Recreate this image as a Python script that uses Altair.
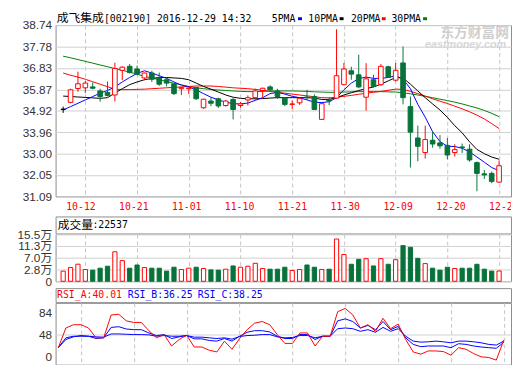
import altair as alt
import pandas as pd

# ---------------- text ----------------
TITLE_NAME = "成飞集成"
TITLE_INFO = "[002190] 2016-12-29 14:32"
MA_NAMES = ["5PMA", "10PMA", "20PMA", "30PMA"]
VOL_NAME = "成交量"
VOL_INFO = ":22537"
RSI_NAMES = ["RSI_A:40.01", "RSI_B:36.25", "RSI_C:38.25"]
WATERMARK = "东方财富网"
WATERMARK_SUB = "eastmoney.com"

# ---------------- axes ----------------
DATE_TICKS = [3, 10, 17, 24, 31, 38, 45, 52, 59]
DATE_LABELS = ["10-12", "10-21", "11-01", "11-10", "11-21", "11-30", "12-09", "12-20", "12-29"]
PRICE_TICKS = [31.09, 32.05, 33.00, 33.96, 34.92, 35.87, 36.83, 37.78, 38.74]
VOL_TICKS = [-14300, 28000, 70300, 112700, 155000]
VOL_TICK_LABELS = ["0", "2.8万", "7.0万", "11.3万", "15.5万"]
RSI_TICKS = [0, 48, 84]
RSI_GRID = [48]

# ---------------- data ----------------
OPEN = [34.98, 35.29, 35.91, 35.94, 35.98, 35.80, 35.73, 35.62, 36.72, 36.90,
        36.78, 36.38, 36.60, 36.38, 36.30, 36.12, 35.90, 35.90, 35.95, 35.05,
        35.35, 35.45, 35.15, 35.42, 35.15, 35.40, 35.50, 35.82, 35.98, 35.80,
        35.48, 35.20, 35.27, 35.53, 35.55, 34.53, 35.40, 35.48, 36.08, 36.70,
        36.52, 35.52, 36.30, 36.08, 36.88, 36.28, 37.05, 35.10, 33.70, 33.05,
        33.60, 33.48, 33.37, 33.05, 33.30, 33.20, 32.60, 32.10, 32.12, 31.73]
HIGH = [35.10, 35.90, 36.66, 36.25, 36.18, 35.90, 36.22, 37.06, 36.90, 37.00,
        36.93, 36.62, 36.70, 36.62, 36.40, 36.15, 35.96, 35.95, 35.98, 35.45,
        35.50, 35.50, 35.40, 35.48, 35.30, 35.60, 35.90, 35.95, 36.05, 35.90,
        35.50, 35.38, 35.50, 35.85, 35.65, 35.25, 35.52, 38.55, 37.05, 36.88,
        37.42, 37.04, 36.52, 37.00, 36.92, 37.05, 37.78, 35.55, 34.25, 34.25,
        34.00, 33.83, 33.70, 33.42, 33.45, 33.42, 32.65, 32.27, 32.20, 32.70]
LOW = [34.82, 35.25, 35.76, 35.71, 35.88, 35.32, 35.56, 35.33, 36.28, 36.58,
       36.50, 36.28, 36.20, 36.03, 36.00, 35.62, 35.62, 35.66, 35.40, 35.00,
       35.12, 35.04, 35.10, 34.53, 35.05, 35.15, 35.40, 35.47, 35.83, 35.45,
       35.12, 35.00, 35.18, 35.40, 34.95, 34.50, 35.17, 35.45, 36.05, 36.30,
       35.92, 34.92, 35.95, 36.03, 36.38, 36.22, 35.20, 32.38, 32.66, 32.78,
       33.27, 33.22, 32.75, 32.87, 33.03, 32.64, 31.32, 31.87, 31.68, 31.70]
CLOSE = [34.98, 35.85, 36.12, 36.15, 35.92, 35.55, 35.60, 36.80, 36.86, 36.62,
         36.55, 36.60, 36.32, 36.10, 36.15, 35.68, 35.95, 35.93, 35.45, 35.43,
         35.25, 35.13, 35.35, 34.97, 35.22, 35.50, 35.80, 35.92, 35.85, 35.55,
         35.20, 35.22, 35.47, 35.50, 34.97, 35.23, 35.35, 36.48, 36.78, 36.55,
         35.98, 36.34, 36.00, 36.90, 36.40, 36.72, 35.50, 33.96, 33.33, 33.63,
         33.43, 33.35, 32.94, 33.18, 33.27, 32.72, 32.12, 32.05, 31.76, 32.46]
VOLUME = [22000, 35000, 47000, 28000, 25600, 32600, 39700, 91500, 59800, 32600,
          44200, 35000, 32600, 32600, 22000, 36100, 28000, 32600, 36100, 31600,
          26600, 25600, 29100, 40700, 36100, 39700, 50200, 31600, 29100, 29100,
          36100, 24500, 28000, 44200, 36100, 28000, 29100, 137400, 82000, 46700,
          64400, 66800, 40700, 66800, 46700, 63300, 113700, 107700, 67900, 49200,
          32600, 25600, 36100, 31600, 32600, 32600, 46700, 29100, 22000, 22537]
MA5 = [34.95, 35.10, 35.25, 35.40, 35.55, 35.70, 35.82, 35.98, 36.20, 36.40,
       36.58, 36.70, 36.60, 36.48, 36.36, 36.20, 36.06, 35.98, 35.85, 35.68,
       35.52, 35.40, 35.30, 35.23, 35.22, 35.26, 35.38, 35.50, 35.68, 35.74,
       35.66, 35.56, 35.50, 35.40, 35.30, 35.28, 35.32, 35.50, 35.85, 36.15,
       36.35, 36.42, 36.36, 36.36, 36.40, 36.48, 36.32, 35.90, 35.20, 34.63,
       33.98, 33.54, 33.33, 33.32, 33.24, 33.08, 32.85, 32.62, 32.38, 32.24]
MA10 = [35.57, 35.55, 35.53, 35.51, 35.49, 35.47, 35.50, 35.70, 35.90, 36.08,
        36.20, 36.30, 36.36, 36.40, 36.40, 36.38, 36.36, 36.30, 36.15, 36.00,
        35.88, 35.75, 35.62, 35.52, 35.47, 35.45, 35.45, 35.46, 35.48, 35.50,
        35.50, 35.50, 35.50, 35.50, 35.48, 35.42, 35.42, 35.50, 35.62, 35.72,
        35.82, 35.90, 35.98, 36.10, 36.25, 36.40, 36.38, 36.10, 35.80, 35.50,
        35.22, 34.95, 34.62, 34.25, 33.93, 33.53, 33.19, 33.00, 32.85, 32.75]
MA20 = [36.60, 36.50, 36.42, 36.32, 36.21, 36.10, 35.99, 35.88, 35.86, 35.86,
        35.87, 35.88, 35.90, 35.92, 35.94, 35.96, 35.98, 36.00, 36.02, 36.02,
        36.02, 36.00, 35.97, 35.94, 35.92, 35.90, 35.87, 35.83, 35.78, 35.74,
        35.70, 35.66, 35.62, 35.58, 35.54, 35.50, 35.49, 35.52, 35.56, 35.60,
        35.65, 35.70, 35.74, 35.78, 35.83, 35.88, 35.87, 35.78, 35.68, 35.57,
        35.45, 35.34, 35.24, 35.12, 35.00, 34.87, 34.72, 34.55, 34.34, 34.12]
MA30 = [37.35, 37.28, 37.20, 37.12, 37.04, 36.96, 36.88, 36.80, 36.72, 36.64,
        36.55, 36.45, 36.38, 36.30, 36.22, 36.14, 36.07, 36.00, 35.94, 35.90,
        35.87, 35.84, 35.82, 35.80, 35.78, 35.77, 35.77, 35.78, 35.80, 35.80,
        35.80, 35.80, 35.79, 35.78, 35.76, 35.75, 35.74, 35.74, 35.75, 35.76,
        35.77, 35.77, 35.77, 35.77, 35.76, 35.75, 35.72, 35.67, 35.62, 35.56,
        35.50, 35.43, 35.37, 35.30, 35.22, 35.13, 35.04, 34.93, 34.80, 34.65]
RSI_A = [27.5, 59.3, 64.6, 64.6, 59.3, 43.4, 43.4, 80.4, 81.5, 70.9,
         68.3, 68.3, 55.0, 43.4, 48.7, 30.2, 40.7, 47.6, 28.6, 28.6,
         23.3, 20.6, 38.1, 24.9, 42.3, 56.6, 67.2, 69.8, 64.6, 48.7,
         34.4, 34.4, 51.3, 51.3, 30.2, 46.0, 46.0, 85.7, 91.0, 80.4,
         59.2, 64.6, 54.0, 75.0, 58.2, 65.6, 40.8, 20.6, 17.0, 22.2,
         22.2, 21.2, 15.3, 27.5, 24.9, 18.0, 12.7, 11.6, 7.4, 40.01]
RSI_B = [27.5, 40.7, 45.0, 47.1, 46.0, 42.3, 43.4, 60.3, 61.4, 57.7,
         56.6, 56.6, 51.3, 47.1, 48.7, 42.3, 45.0, 47.1, 41.8, 41.8,
         39.1, 38.1, 42.3, 38.1, 46.0, 52.4, 55.0, 55.0, 52.9, 46.0,
         42.3, 42.3, 48.7, 48.7, 40.7, 46.0, 46.0, 70.9, 74.1, 69.8,
         59.3, 63.5, 56.6, 69.8, 56.6, 61.9, 43.4, 32.8, 29.1, 30.2,
         30.2, 30.2, 27.5, 33.9, 32.8, 30.2, 28.6, 27.5, 26.5, 36.25]
RSI_C = [27.5, 43.4, 46.0, 46.0, 46.0, 45.0, 44.5, 49.7, 49.7, 49.2,
         48.7, 48.7, 48.2, 46.0, 47.1, 46.0, 46.0, 47.1, 44.5, 44.5,
         43.4, 42.3, 43.4, 41.3, 45.5, 47.1, 47.6, 48.7, 48.7, 45.0,
         43.4, 44.0, 47.1, 47.1, 43.4, 46.0, 46.0, 58.2, 59.3, 58.2,
         54.0, 56.6, 52.4, 60.3, 54.0, 58.2, 46.0, 38.1, 36.5, 37.0,
         38.1, 37.0, 35.4, 38.1, 38.1, 37.0, 35.4, 32.8, 31.7, 38.25]

# ---------------- styling ----------------
RED = "#ff0000"
GREEN = "#07733a"
BLUE = "#0000ff"
BLACK = "#000000"
MA_GREEN = "#008000"
BORDER = "#8c8c8c"
GRID = "#d0d0d0"
DASH = "#c4c4c4"
LABEL = "#333333"
SANS = "Liberation Sans, Noto Sans CJK SC"
MONO = "DejaVu Sans Mono"
CJK = "Noto Sans CJK SC"

W = 464
H_PRICE = 174.6
H_XLAB = 19.7
H_VOL_T = 17.3
H_VOL = 48
H_GAP = 6.4
H_RSI_T = 14.3
H_RSI = 63

N = len(CLOSE)


def direction(o, c):
    if c > o:
        return "up"
    if c < o:
        return "down"
    return "flat"


df = pd.DataFrame({
    "i": list(range(N)), "open": OPEN, "high": HIGH, "low": LOW, "close": CLOSE,
    "volume": VOLUME, "ma5": MA5, "ma10": MA10, "ma20": MA20, "ma30": MA30,
    "rsi_a": RSI_A, "rsi_b": RSI_B, "rsi_c": RSI_C,
})
df["dir"] = [direction(o, c) for o, c in zip(OPEN, CLOSE)]
df["vdir"] = df["dir"].replace({"flat": "up"})

stroke_scale = alt.Scale(domain=["up", "down", "flat"], range=[RED, GREEN, BLACK])
fill_scale = alt.Scale(domain=["up", "down", "flat"], range=["#ffffff", GREEN, BLACK])

xscale = alt.Scale(domain=[-0.36, 59.95], nice=False, zero=False)
vol_label_expr = ("[" + ",".join("'%s'" % s for s in VOL_TICK_LABELS) + "][indexof(["
                  + ",".join(str(v) for v in VOL_TICKS) + "], datum.value)]")

x_axis_plain = alt.Axis(values=DATE_TICKS, labels=False, ticks=False, domain=False,
                        grid=True, gridDash=[4, 3], gridColor=DASH, title=None)


def X():
    return alt.X("i:Q", scale=xscale, axis=x_axis_plain)


no_border = alt.ViewBackground(stroke="transparent")

# ---------- price panel ----------
pscale = alt.Scale(domain=[PRICE_TICKS[0], PRICE_TICKS[-1]], nice=False, zero=False)
paxis = alt.Axis(values=PRICE_TICKS, format=".2f", labelFont=SANS, labelFontSize=12,
                 labelColor=LABEL, labelPadding=4, ticks=False, domain=False, grid=True,
                 gridColor=GRID, title=None, labelOverlap=False)


def PY(field):
    return alt.Y(field, scale=pscale, axis=paxis)


base = alt.Chart(df)

wm1 = alt.Chart(pd.DataFrame({"t": [WATERMARK]})).mark_text(
    align="right", baseline="middle", font=CJK, fontSize=14, fontWeight="bold",
    color="#cfcfcf").encode(x=alt.value(462), y=alt.value(8.3), text="t:N")
wm2 = alt.Chart(pd.DataFrame({"t": [WATERMARK_SUB]})).mark_text(
    align="right", baseline="middle", font="Liberation Sans", fontSize=11,
    fontWeight="bold", fontStyle="italic", color="#d6d6d6").encode(
    x=alt.value(459), y=alt.value(20.5), text="t:N")

ma_layers = []
for col, colr in zip(["ma30", "ma20", "ma10", "ma5"], [MA_GREEN, RED, BLACK, BLUE]):
    ma_layers.append(base.mark_line(color=colr, strokeWidth=1).encode(
        x=X(), y=PY(col + ":Q")))

wicks = base.mark_rule(strokeWidth=1).encode(
    x=X(), y=PY("low:Q"), y2="high:Q",
    stroke=alt.Stroke("dir:N", scale=stroke_scale, legend=None))
bodies = base.mark_bar(size=4.7, strokeWidth=1).encode(
    x=X(), y=PY("open:Q"), y2="close:Q",
    stroke=alt.Stroke("dir:N", scale=stroke_scale, legend=None),
    fill=alt.Fill("dir:N", scale=fill_scale, legend=None))

title1 = alt.Chart(pd.DataFrame({"t": [TITLE_NAME]})).mark_text(
    align="left", baseline="alphabetic", font=CJK, fontSize=12, color=BLACK).encode(
    x=alt.value(1.2), y=alt.value(-3), text="t:N")
title2 = alt.Chart(pd.DataFrame({"t": [TITLE_INFO]})).mark_text(
    align="left", baseline="alphabetic", font=MONO, fontSize=10, color=BLACK).encode(
    x=alt.value(49.2), y=alt.value(-3), text="t:N")

LEG_TEXT_X = [220.2, 257.5, 300.9, 342.2]
LEG_DASH_X = [247.0, 289.4, 332.3, 374.4]
LEG_COLORS = [BLUE, BLACK, RED, MA_GREEN]
legend_layers = []
for name, tx, dx, colr in zip(MA_NAMES, LEG_TEXT_X, LEG_DASH_X, LEG_COLORS):
    legend_layers.append(alt.Chart(pd.DataFrame({"t": [name]})).mark_text(
        align="left", baseline="alphabetic", font=MONO, fontSize=10, color=BLACK).encode(
        x=alt.value(tx), y=alt.value(-3), text="t:N"))
    legend_layers.append(alt.Chart(pd.DataFrame({"t": [name]})).mark_rule(
        color=colr, strokeWidth=3).encode(
        x=alt.value(dx), x2=alt.value(dx + 4), y=alt.value(-6.5)))

price = alt.layer(wm1, wm2, *ma_layers, wicks, bodies, title1, title2,
                  *legend_layers).properties(width=W, height=H_PRICE)

# ---------- date labels (clipped at the right edge, as in the original) ----------
date_df = pd.DataFrame({"i": DATE_TICKS, "label": DATE_LABELS})
xlabels = alt.Chart(date_df).mark_text(
    font=MONO, fontSize=10, color=RED, baseline="middle", align="center", clip=True).encode(
    x=alt.X("i:Q", scale=xscale, axis=None), y=alt.value(10.8), text="label:N"
).properties(width=W, height=H_XLAB, view=no_border)

# ---------- volume panel ----------
vscale = alt.Scale(domain=[VOL_TICKS[0], VOL_TICKS[-1]], nice=False, zero=False)
vaxis = alt.Axis(values=VOL_TICKS, labelExpr=vol_label_expr, labelFont=SANS,
                 labelFontSize=12, labelColor=LABEL, labelPadding=4, ticks=False,
                 domain=False, grid=True, gridColor=GRID, title=None, labelOverlap=False)
vol = base.mark_bar(size=4.3, strokeWidth=1).encode(
    x=X(), y=alt.Y("volume:Q", scale=vscale, axis=vaxis),
    y2=alt.datum(VOL_TICKS[0]),
    stroke=alt.Stroke("vdir:N", scale=stroke_scale, legend=None),
    fill=alt.Fill("vdir:N", scale=fill_scale, legend=None)).properties(width=W, height=H_VOL)

vt1 = alt.Chart(pd.DataFrame({"t": [VOL_NAME]})).mark_text(
    align="left", baseline="middle", font=CJK, fontSize=12, color=BLACK).encode(
    x=alt.value(2.2), y=alt.value(8.3), text="t:N")
vt2 = alt.Chart(pd.DataFrame({"t": [VOL_INFO]})).mark_text(
    align="left", baseline="middle", font=MONO, fontSize=10, color=BLACK).encode(
    x=alt.value(37.5), y=alt.value(8.8), text="t:N")
vol_title = alt.layer(vt1, vt2).properties(width=W, height=H_VOL_T)

gap = alt.Chart(pd.DataFrame({"t": [""]})).mark_text(opacity=0).encode(
    x=alt.value(0), y=alt.value(0), text="t:N").properties(width=W, height=H_GAP, view=no_border)

# ---------- RSI panel ----------
rscale = alt.Scale(domain=[0, 100], nice=False, zero=False)
raxis = alt.Axis(values=RSI_TICKS, format="d", labelFont=SANS, labelFontSize=12,
                 labelColor=LABEL, labelPadding=4, ticks=False, domain=False, grid=False,
                 title=None, labelOverlap=False,
                 labelOffset={"condition": {"test": "datum.value === 0", "value": -8},
                              "value": 0})
rgrid = alt.Chart(pd.DataFrame({"g": RSI_GRID})).mark_rule(color=GRID, strokeWidth=1).encode(
    y=alt.Y("g:Q", scale=rscale, axis=raxis))
rsi_layers = []
for col, colr in zip(["rsi_c", "rsi_b", "rsi_a"], [BLUE, BLUE, RED]):
    rsi_layers.append(base.mark_line(color=colr, strokeWidth=1).encode(
        x=X(), y=alt.Y(col + ":Q", scale=rscale, axis=raxis)))
rsi = alt.layer(rgrid, *rsi_layers).properties(width=W, height=H_RSI)

RSI_TITLE_X = [1.5, 73.5, 144.9]
RSI_TITLE_COLORS = [RED, BLUE, BLUE]
rsi_title_layers = []
for name, tx, colr in zip(RSI_NAMES, RSI_TITLE_X, RSI_TITLE_COLORS):
    rsi_title_layers.append(alt.Chart(pd.DataFrame({"t": [name]})).mark_text(
        align="left", baseline="middle", font=MONO, fontSize=10, color=colr).encode(
        x=alt.value(tx), y=alt.value(7), text="t:N"))
rsi_title = alt.layer(*rsi_title_layers).properties(width=W, height=H_RSI_T)

chart = alt.vconcat(
    price, xlabels, vol_title, vol, gap, rsi_title, rsi,
    spacing=0, bounds="flush",
).properties(
    padding={"left": 8.5, "top": 0, "right": 0, "bottom": 0},
    background="white",
).configure_view(stroke=BORDER, strokeWidth=1)

chart.save("out.html", embed_options={"renderer": "svg", "actions": False})
